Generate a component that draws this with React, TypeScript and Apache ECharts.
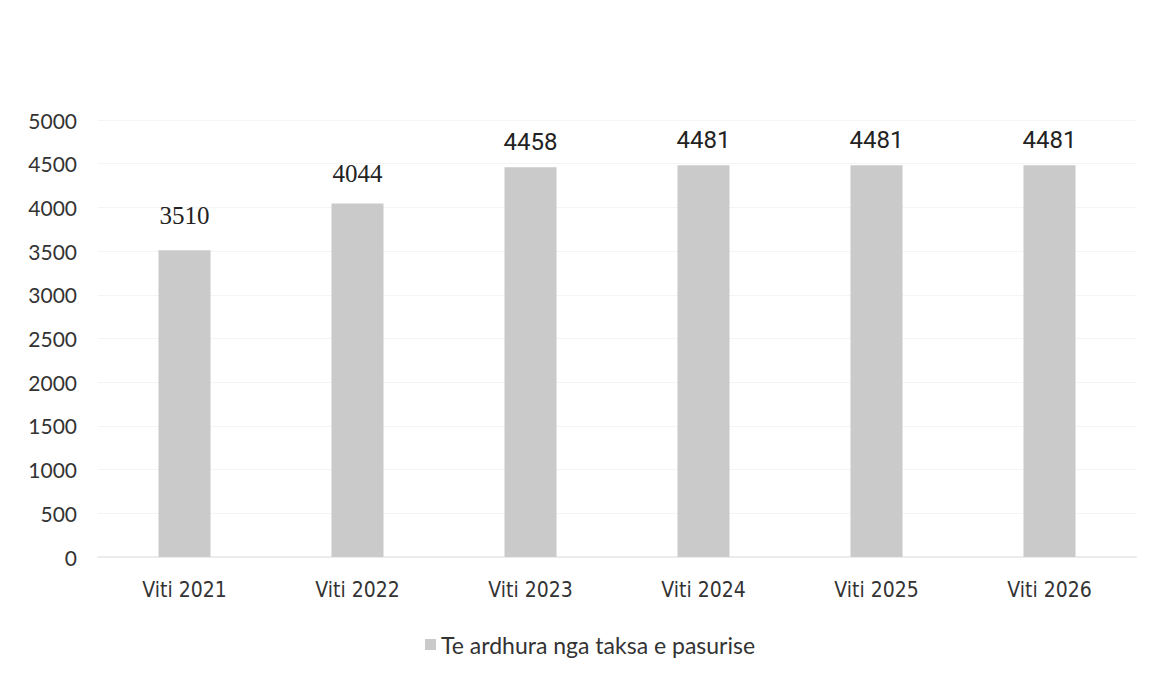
import React, { useEffect, useRef } from "react";
import * as echarts from "echarts";

const categories = ["Viti 2021", "Viti 2022", "Viti 2023", "Viti 2024", "Viti 2025", "Viti 2026"];
const values = [3510, 4044, 4458, 4481, 4481, 4481];
const labelFonts = ["Liberation Serif", "Liberation Serif", "Roboto", "Roboto", "Roboto", "Roboto"];
const labelSizes = [25, 25, 24, 24, 24, 24];
const labelGaps = [22, 18, 13, 13, 13, 13];
const seriesName = "Te ardhura nga taksa e pasurise";

export default function App() {
  const ref = useRef<HTMLDivElement>(null);
  useEffect(() => {
    document.body.style.margin = "0";
    const chart = echarts.init(ref.current!, null, { renderer: "svg" });
    chart.setOption({
      animation: false,
      backgroundColor: "#ffffff",
      grid: { left: 98, right: 16, top: 120, bottom: 120 },
      legend: {
        data: [seriesName],
        left: 420,
        top: 628,
        icon: "rect",
        itemWidth: 11,
        itemHeight: 11,
        textStyle: { fontFamily: "Lato", fontSize: 23, color: "#333333" },
      },
      xAxis: {
        type: "category",
        data: categories,
        axisTick: { show: false },
        axisLine: { lineStyle: { color: "#ececec", width: 2 } },
        axisLabel: {
          margin: 22,
          fontFamily: "DejaVu Sans Condensed, DejaVu Sans",
          fontSize: 21,
          color: "#333333",
        },
      },
      yAxis: {
        type: "value",
        min: 0,
        max: 5000,
        interval: 500,
        axisLabel: {
          margin: 21,
          fontFamily: "Lato",
          fontSize: 21,
          color: "#333333",
          formatter: (v: number) => String(v),
        },
        splitLine: { lineStyle: { color: "#f4f4f4" } },
      },
      series: [
        {
          name: seriesName,
          type: "bar",
          barWidth: 52,
          itemStyle: { color: "#cacaca" },
          data: values.map((v, i) => ({
            value: v,
            label: {
              show: true,
              position: "top",
              distance: labelGaps[i],
              fontFamily: labelFonts[i],
              fontSize: labelSizes[i],
              color: "#222222",
            },
          })),
        },
      ],
    });
    return () => chart.dispose();
  }, []);
  return <div ref={ref} style={{ width: 1152, height: 677 }} />;
}
